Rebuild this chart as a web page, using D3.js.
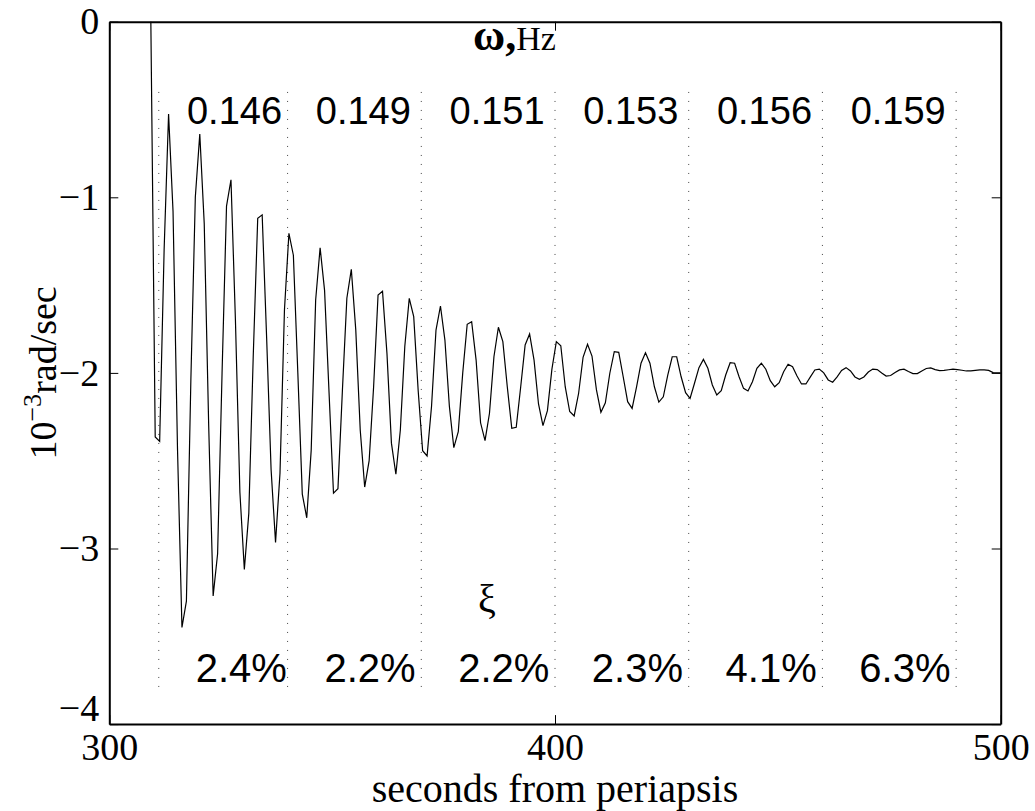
<!DOCTYPE html>
<html>
<head>
<meta charset="utf-8">
<script src="https://cdn.jsdelivr.net/npm/d3@7"></script>
<style>
  body { margin: 0; background: #fff; }
  svg text { fill: #000; }
</style>
</head>
<body>
<div id="chart"></div>
<script>
// first sample time (s), samples every 1 s
const startTime = 309.3;
// body rate, 10^-3 rad/sec
const rate = [
  0.05, -2.365, -2.39, -1.30, -0.526, -1.08, -2.43, -3.45, -3.30, -2.04,
  -1.00, -0.64, -1.15, -2.30, -3.27, -3.03, -2.00, -1.05, -0.90, -1.70,
  -2.68, -3.12, -2.80, -1.90, -1.12, -1.10, -1.80, -2.55, -2.965, -2.57,
  -1.64, -1.205, -1.33, -2.00, -2.69, -2.825, -2.44, -1.585, -1.287, -1.53,
  -2.11, -2.685, -2.66, -2.10, -1.575, -1.41, -1.755, -2.325, -2.65, -2.50,
  -2.08, -1.556, -1.535, -1.89, -2.40, -2.577, -2.325, -1.85, -1.575, -1.68,
  -2.10, -2.443, -2.473, -2.19, -1.756, -1.619, -1.813, -2.19, -2.426, -2.335,
  -2.00, -1.723, -1.708, -1.927, -2.284, -2.386, -2.23, -1.908, -1.74, -1.822,
  -2.08, -2.315, -2.31, -2.08, -1.841, -1.778, -1.927, -2.177, -2.30, -2.215,
  -1.98, -1.822, -1.845, -2.08, -2.22, -2.245, -2.116, -1.911, -1.837, -1.904,
  -2.097, -2.224, -2.17, -2.002, -1.879, -1.883, -2.022, -2.164, -2.202, -2.079,
  -1.945, -1.885, -1.945, -2.079, -2.166, -2.136, -2.012, -1.908, -1.908, -2.022,
  -2.113, -2.145, -2.059, -1.970, -1.923, -1.974, -2.069, -2.126, -2.101, -2.012,
  -1.942, -1.945, -2.022, -2.088, -2.103, -2.050, -1.974, -1.945, -1.979, -2.044,
  -2.079, -2.056, -1.993, -1.951, -1.965, -2.018, -2.063, -2.063, -2.023, -1.983,
  -1.978, -2.000, -2.040, -2.053, -2.023, -1.986, -1.970, -1.989, -2.023, -2.036,
  -2.023, -1.995, -1.978, -1.981, -2.000, -2.018, -2.015, -1.998, -1.983, -1.979,
  -1.992, -2.004, -2.004, -1.989, -1.975, -1.972, -1.981, -1.987, -1.986, -1.982,
  -1.979, -1.981, -1.985, -1.989, -1.989, -1.986, -1.983, -1.983, -1.986, -1.998,
  -2.000, -2.000
];

// window boundaries (s) and what was identified in each window
const windowEdges = [311.1, 340, 370, 400, 430, 460, 490];
const freqLabels = ["0.146", "0.149", "0.151", "0.153", "0.156", "0.159"];
const dampLabels = ["2.4%", "2.2%", "2.2%", "2.3%", "4.1%", "6.3%"];

const xTicks = [300, 400, 500];
const yTicks = [0, -1, -2, -3, -4];

const W = 1035, H = 811;
const plotLeft = 109.3, plotRight = 1000.7, plotTop = 21.7, plotBottom = 724.1;

const x = d3.scaleLinear().domain([300, 500]).range([plotLeft, plotRight]);
const y = d3.scaleLinear().domain([-4, 0]).range([plotBottom, plotTop]);

const svg = d3.select("#chart").append("svg")
  .attr("width", W)
  .attr("height", H);

svg.append("defs").append("clipPath").attr("id", "plotclip")
  .append("rect")
    .attr("x", plotLeft).attr("y", plotTop)
    .attr("width", plotRight - plotLeft).attr("height", plotBottom - plotTop);

// dotted window lines
svg.append("g")
  .selectAll("line")
  .data(windowEdges)
  .join("line")
    .attr("x1", d => x(d)).attr("x2", d => x(d))
    .attr("y1", y(-0.4)).attr("y2", y(-3.8))
    .attr("stroke", "#444")
    .attr("stroke-width", 1)
    .attr("stroke-dasharray", "1,8");

// the signal
const series = rate.map((v, i) => [startTime + i, v]);
svg.append("path")
  .datum(series)
  .attr("clip-path", "url(#plotclip)")
  .attr("fill", "none")
  .attr("stroke", "#000")
  .attr("stroke-width", 1.2)
  .attr("d", d3.line().x(d => x(d[0])).y(d => y(d[1])));

// axes, MATLAB style box with inward ticks
const fmt = d3.format("d");
const serif = "'Liberation Serif', 'Times New Roman', serif";
const sans = "'Liberation Sans', Arial, Helvetica, sans-serif";

const gx = svg.append("g")
  .attr("transform", `translate(0,${plotBottom})`)
  .call(d3.axisBottom(x).tickValues(xTicks).tickFormat(fmt)
    .tickSizeInner(-9).tickSizeOuter(0).tickPadding(13));
const gxTop = svg.append("g")
  .attr("transform", `translate(0,${plotTop})`)
  .call(d3.axisTop(x).tickValues(xTicks).tickFormat("")
    .tickSizeInner(-9).tickSizeOuter(0));
const gy = svg.append("g")
  .attr("transform", `translate(${plotLeft},0)`)
  .call(d3.axisLeft(y).tickValues(yTicks).tickFormat(fmt)
    .tickSizeInner(-9).tickSizeOuter(0).tickPadding(10));
const gyRight = svg.append("g")
  .attr("transform", `translate(${plotRight},0)`)
  .call(d3.axisRight(y).tickValues(yTicks).tickFormat("")
    .tickSizeInner(-9).tickSizeOuter(0));

[gx, gxTop, gy, gyRight].forEach(g => {
  g.select(".domain").attr("stroke", "#000").attr("stroke-width", 2);
  g.selectAll(".tick line").attr("stroke", "#000").attr("stroke-width", 1);
  g.selectAll(".tick text")
    .style("font-family", serif)
    .style("font-size", "38px")
    .attr("fill", "#000");
});
gx.selectAll(".tick text").attr("dy", "0.6em");
// the -4 label sits a little above the corner, clear of the 300
gy.selectAll(".tick text").filter(d => d === -4).attr("dy", "-0.1em");

// axis titles
svg.append("text")
  .attr("x", (plotLeft + plotRight) / 2)
  .attr("y", 802)
  .attr("text-anchor", "middle")
  .style("font-family", serif)
  .style("font-size", "40px")
  .text("seconds from periapsis");

const yt = svg.append("text")
  .attr("transform", `translate(56,${(plotTop + plotBottom) / 2}) rotate(-90)`)
  .attr("text-anchor", "middle")
  .style("font-family", serif)
  .style("font-size", "38px");
yt.append("tspan").text("10");
yt.append("tspan").attr("dy", -15).style("font-size", "26px").text("\u22123");
yt.append("tspan").attr("dy", 15).text("rad/sec");

// annotations
const ann = svg.append("g");
const om = ann.append("text")
  .attr("x", x(381.6)).attr("y", y(-0.16))
  .style("font-family", serif);
om.append("tspan").style("font-size", "44px").style("font-weight", "bold").text("\u03c9,");
om.append("tspan").style("font-size", "34px").text("Hz");

ann.append("text")
  .attr("x", x(382.7)).attr("y", y(-3.36))
  .style("font-family", serif)
  .style("font-size", "40px")
  .text("\u03be");

ann.selectAll(".freq")
  .data(freqLabels)
  .join("text")
    .attr("class", "freq")
    .attr("x", (d, i) => x(windowEdges[i] + 17))
    .attr("y", y(-0.58))
    .attr("text-anchor", "middle")
    .style("font-family", sans)
    .style("font-size", "38px")
    .text(d => d);

ann.selectAll(".damp")
  .data(dampLabels)
  .join("text")
    .attr("class", "damp")
    .attr("x", (d, i) => x(windowEdges[i] + 18.5))
    .attr("y", y(-3.76))
    .attr("text-anchor", "middle")
    .style("font-family", sans)
    .style("font-size", "40px")
    .text(d => d);
</script>
</body>
</html>
